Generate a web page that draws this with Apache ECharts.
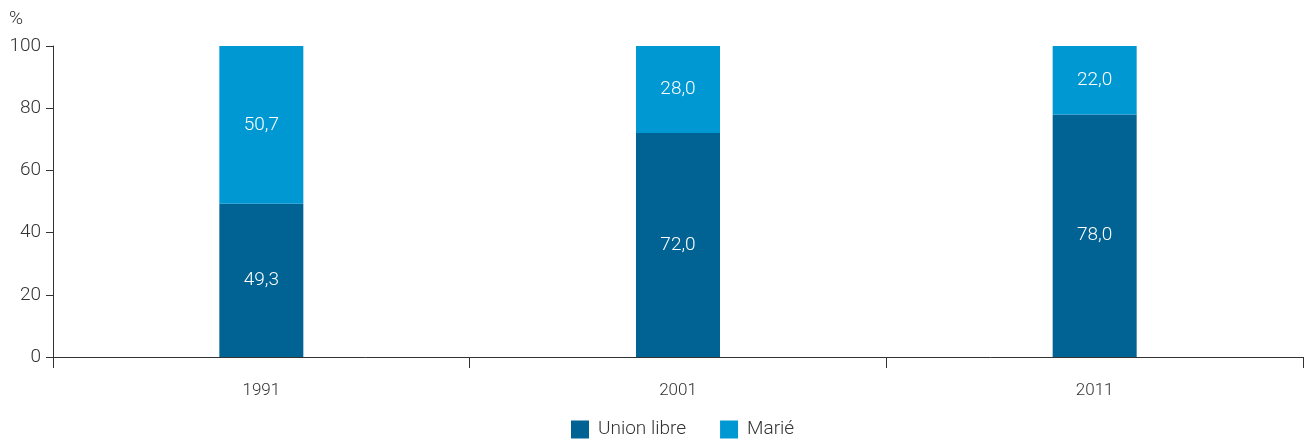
<!DOCTYPE html>
<title>union libre</title>
<style>
body {margin: 0;}
#echart {height: 442px; width: 1307px;}
</style>
<div id='echart'></div>
<script src='https://cdn.jsdelivr.net/npm/echarts@6/dist/echarts.min.js'></script>
<script>
let years = ['1991', '2001', '2011']
let union_libre = [49.3, 72.0, 78.0]
let marie = [50.7, 28.0, 22.0]
let y_ticks = [0, 20, 40, 60, 80, 100]

let font = "Roboto, 'DejaVu Sans Condensed', sans-serif"
let fmt = p => p.value.toFixed(1).replace('.', ',')
let label = {show: true, position: 'inside', color: '#fff', fontSize: 19, fontWeight: 300, fontFamily: font, formatter: fmt}

let echart = echarts.init(document.querySelector('#echart'))
let option = {
	textStyle: {fontFamily: font},
	grid: {left: 53, right: 4, top: 46, bottom: 85},
	xAxis: {
		type: 'category', data: years,
		axisLine: {lineStyle: {color: '#333', width: 1}},
		axisTick: {show: true, length: 11, lineStyle: {color: '#333'}},
		axisLabel: {color: '#333', fontSize: 17, fontWeight: 300, fontFamily: font, margin: 25},
	},
	yAxis: {
		type: 'value', min: y_ticks[0], max: y_ticks[y_ticks.length - 1], interval: 20,
		name: '%', nameLocation: 'end', nameGap: 17,
		nameTextStyle: {color: '#333', fontSize: 19, fontWeight: 300, fontFamily: font, align: 'right', padding: [0, 30, 0, 0]},
		axisLine: {show: true, lineStyle: {color: '#333'}},
		axisTick: {show: true, length: 7, lineStyle: {color: '#333'}},
		axisLabel: {color: '#333', fontSize: 19, fontWeight: 300, fontFamily: font, margin: 12},
		splitLine: {show: false},
	},
	legend: {
		bottom: 3, left: 571, padding: 0, itemWidth: 18, itemHeight: 18, itemGap: 34,
		icon: 'rect', textStyle: {color: '#333', fontSize: 19, fontWeight: 300, fontFamily: font, padding: [0, 0, 0, 4]},
	},
	series: [
		{type: 'bar', name: 'Union libre', stack: 'a', data: union_libre, barWidth: 84, itemStyle: {color: '#006393'}, label: label},
		{type: 'bar', name: 'Marié', stack: 'a', data: marie, barWidth: 84, itemStyle: {color: '#0098d3'}, label: label},
	],
}
echart.setOption(option)
</script>
